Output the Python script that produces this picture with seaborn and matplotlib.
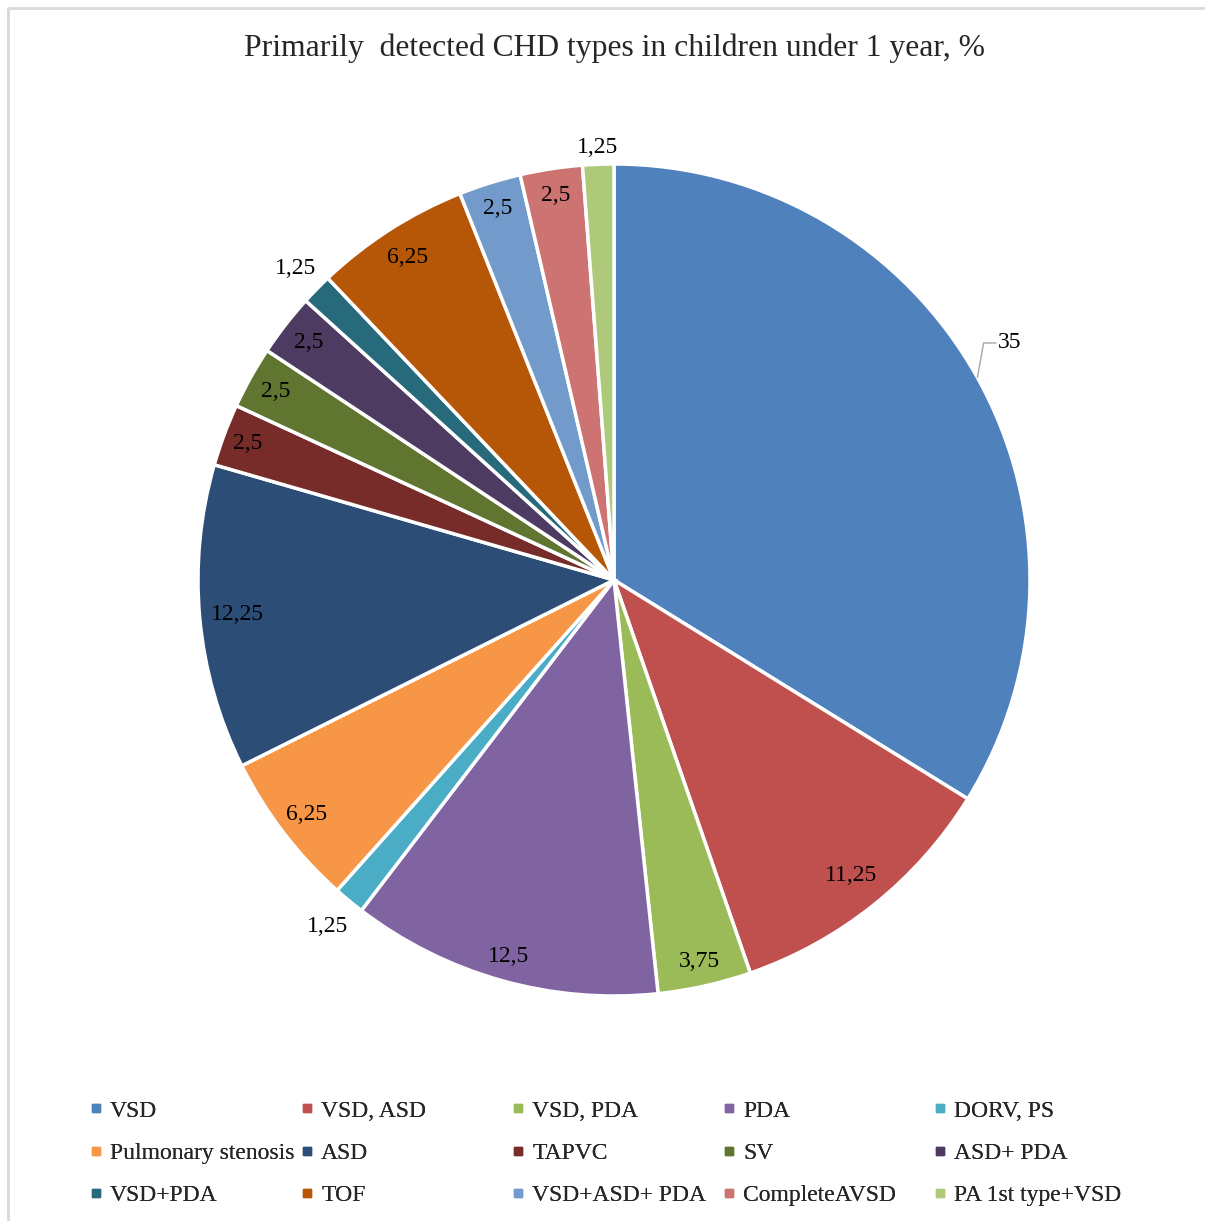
import numpy as np
import matplotlib
matplotlib.use("Agg")
import matplotlib.pyplot as plt
from matplotlib.lines import Line2D
import seaborn as sns

# data (values as printed, in %)
types = ["VSD", "VSD, ASD", "VSD, PDA", "PDA", "DORV, PS",
         "Pulmonary stenosis", "ASD", "TAPVC", "SV", "ASD+ PDA",
         "VSD+PDA", "TOF", "VSD+ASD+ PDA", "CompleteAVSD", "PA 1st type+VSD"]
shares = [35, 11.25, 3.75, 12.5, 1.25,
          6.25, 12.25, 2.5, 2.5, 2.5,
          1.25, 6.25, 2.5, 2.5, 1.25]
value_labels = ["35", "11,25", "3,75", "12,5", "1,25",
                "6,25", "12,25", "2,5", "2,5", "2,5",
                "1,25", "6,25", "2,5", "2,5", "1,25"]

colors = ["#4F81BD", "#C0504D", "#9BBB59", "#8064A2", "#4BACC6",
          "#F79646", "#2C4D75", "#772C2A", "#5F7530", "#4D3B62",
          "#276A7C", "#B65708", "#729ACA", "#CD7371", "#AFC97A"]

sns.set_theme(style="white")
plt.rcParams["font.family"] = ["Liberation Serif", "DejaVu Serif"]

W, H = 1205, 1221
fig = plt.figure(figsize=(W / 100, H / 100), dpi=100)
fig.patch.set_facecolor("white")

# light grey frame: only top and left edges are visible in the crop
fig.add_artist(Line2D([8 / W, 1], [1 - 8 / H, 1 - 8 / H], color="#D9D9D9", lw=2,
                      transform=fig.transFigure))
fig.add_artist(Line2D([8 / W, 8 / W], [0, 1 - 8 / H], color="#D9D9D9", lw=2,
                      transform=fig.transFigure))

# pie centre (614, 580) px, radius 416 px
R = 416
half = R * 1.2
cx, cy = 614, 580
ax = fig.add_axes([(cx - half) / W, (H - cy - half) / H, 2 * half / W, 2 * half / H])
wedges, _ = ax.pie(shares, colors=colors, startangle=90, counterclock=False,
                   wedgeprops=dict(edgecolor="white", linewidth=2.5))
ax.set_xlim(-1.2, 1.2)
ax.set_ylim(-1.2, 1.2)
ax.set_aspect("equal")
ax.axis("off")

# radial distance of each data label (inside for most, outside for the slim slices)
dist = [None, 0.91, 0.94, 0.94, 1.08, 0.93, 0.91, 0.94, 0.93, 0.93, 1.07, 0.92, 0.935, 0.935, 1.04]
for i, w in enumerate(wedges):
    mid = np.deg2rad((w.theta1 + w.theta2) / 2)
    if i == 0:
        ex, ey = np.cos(mid), np.sin(mid)
        ax.plot([ex, ex + 0.015, ex + 0.045], [ey, ey + 0.083, ey + 0.083],
                color="#A6A6A6", lw=1)
        ax.text(ex + 0.05, ey + 0.083, value_labels[i], ha="left", va="center",
                fontsize=17, color="black")
        continue
    d = dist[i]
    ax.text(d * np.cos(mid), d * np.sin(mid), value_labels[i], ha="center",
            va="center", fontsize=17, color="black")

fig.text(614 / W, 1 - 48 / H, "Primarily  detected CHD types in children under 1 year, %",
         ha="center", va="center", fontsize=22.8)

# legend: five columns of three rows, read row by row
handles = [Line2D([], [], marker="s", linestyle="none", markersize=6,
                  markerfacecolor=c, markeredgecolor=c) for c in colors]
col_x = [90, 301, 512, 723, 934]
for j, x in enumerate(col_x):
    idx = [j, j + 5, j + 10]
    leg = fig.legend([handles[k] for k in idx], [types[k] for k in idx],
                     loc="upper left", bbox_to_anchor=(x / W, 1 - 1100 / H),
                     frameon=False, fontsize=17, handlelength=0.55,
                     handletextpad=0.3, labelspacing=0.88, borderpad=0,
                     borderaxespad=0)
    fig.add_artist(leg)

fig.savefig("out.png", dpi=100, facecolor="white")
